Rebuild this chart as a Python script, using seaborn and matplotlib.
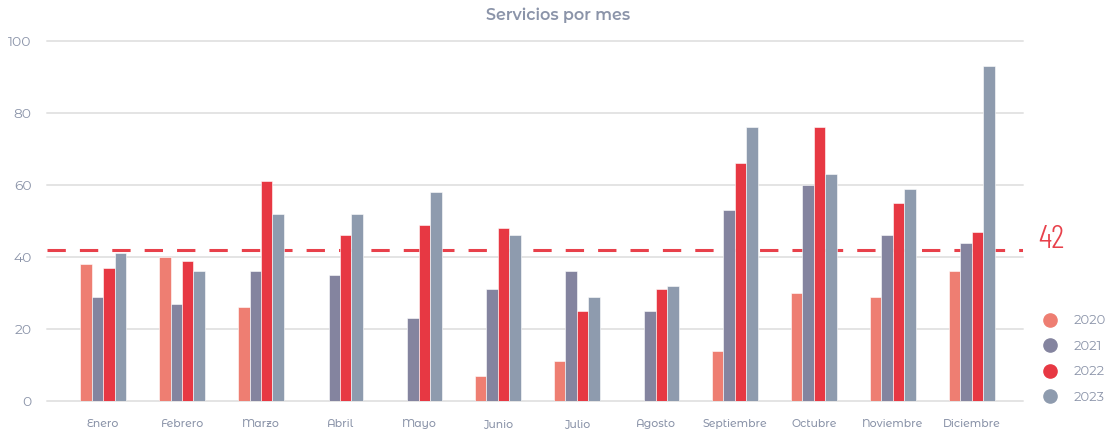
import pandas as pd
import matplotlib
matplotlib.use('Agg')
import matplotlib.pyplot as plt
from matplotlib.lines import Line2D
import matplotlib.transforms as mtransforms
import seaborn as sns

# Data
months = ['Enero', 'Febrero', 'Marzo', 'Abril', 'Mayo', 'Junio',
          'Julio', 'Agosto', 'Septiembre', 'Octubre', 'Noviembre', 'Diciembre']
years = ['2020', '2021', '2022', '2023']
s2020 = [38, 40, 26, 0, 0, 7, 11, 0, 14, 30, 29, 36]
s2021 = [29, 27, 36, 35, 23, 31, 36, 25, 53, 60, 46, 44]
s2022 = [37, 39, 61, 46, 49, 48, 25, 31, 66, 76, 55, 47]
s2023 = [41, 36, 52, 52, 58, 46, 29, 32, 76, 63, 59, 93]
average = 42
y_ticks = [0, 20, 40, 60, 80, 100]

colors = ['#EE7E72', '#84849F', '#E73843', '#8E9BAE']
text_color = '#8B94A9'

rows = []
for year, vals in zip(years, [s2020, s2021, s2022, s2023]):
    for m, v in zip(months, vals):
        rows.append({'Mes': m, 'Anio': year, 'Servicios': v})
df = pd.DataFrame(rows)

sns.set_theme(style='white')
# static Montserrat cut (the variable one renders as Thin)
plt.rcParams['font.family'] = ['Montserrat Alternates', 'Open Sans', 'DejaVu Sans']

fig = plt.figure(figsize=(11.09, 4.34), dpi=100)
ax = fig.add_axes([47 / 1109, 1 - 401 / 434, 976 / 1109, 360 / 434])

sns.barplot(data=df, x='Mes', y='Servicios', hue='Anio', order=months,
            hue_order=years, palette=colors, width=0.58, gap=0,
            saturation=1, legend=False, edgecolor='white', linewidth=0.4,
            ax=ax)

ax.set_xlim(-0.71, 11.65)
ax.set_ylim(0, 100)
ax.set_yticks(y_ticks)
ax.yaxis.grid(True, color='#E4E4E4', linewidth=1.4)
ax.set_axisbelow(True)
for sp in ax.spines.values():
    sp.set_visible(False)
for gl in ax.get_ygridlines():
    gl.set_clip_on(False)

ax.tick_params(axis='y', length=0, pad=11, labelsize=10, labelcolor=text_color)
ax.tick_params(axis='x', length=0, pad=13, labelsize=7.8, labelcolor=text_color)
for lbl in ax.get_xticklabels():
    lbl.set_fontweight(500)
ax.set_xlabel('')
ax.set_ylabel('')

# average line, drawn behind the bars
ax.axhline(average, color='#E8414B', linewidth=2.2, dashes=(6, 4.6), zorder=0.8)
trans = mtransforms.blended_transform_factory(ax.transAxes, ax.transData)
ax.text(1.0155, average + 0.5, str(average), transform=trans, color='#E8414B',
        fontsize=24, va='baseline', ha='left',
        family=['Barlow Condensed', 'DejaVu Sans'], fontweight=300)

fig.text(0.503, 0.965, 'Servicios por mes', ha='center', va='center',
         fontsize=11.5, fontweight=600, color=text_color)

handles = [Line2D([], [], marker='o', linestyle='', markersize=9.5,
                  markerfacecolor=c, markeredgecolor=c) for c in colors]
fig.legend(handles, years, loc='center left', bbox_to_anchor=(1043 / 1109, 1 - 359 / 434),
           frameon=False, fontsize=9.5, labelcolor=text_color, handlelength=1,
           handletextpad=1.3, labelspacing=0.95, borderpad=0, borderaxespad=0)

fig.savefig('out.png', dpi=100)
